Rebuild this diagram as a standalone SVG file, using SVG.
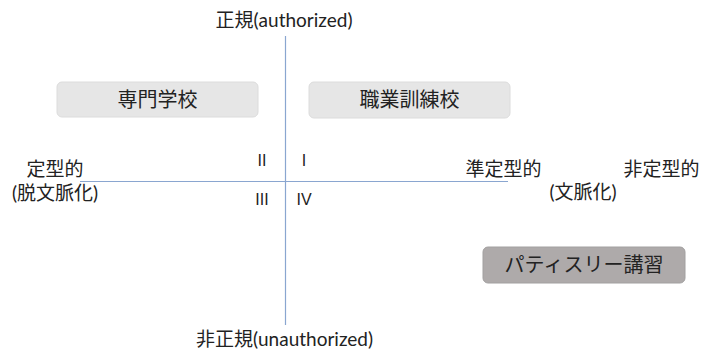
<svg xmlns="http://www.w3.org/2000/svg" width="712" height="351" viewBox="0 0 712 351">
<style>
text{font-family:"Noto Sans CJK JP","Liberation Sans",sans-serif;font-size:19px;fill:#222}
.lat{font-family:Lato,"Noto Sans CJK JP",sans-serif}
.lbl{font-size:20px}
.rom{font-family:"Liberation Sans",sans-serif;font-size:16px}
.axis{stroke:#8aa6d0;stroke-width:1.2;fill:none}
.box{fill:#e6e6e6;stroke:#dcdcdc;stroke-width:1}
.dark{fill:#aeaaaa;stroke:#a2a0a0}
</style>
<rect width="712" height="351" fill="#fff"/>
<g id="connectors">
<line class="axis" x1="285.5" y1="36" x2="285.5" y2="325"/>
<line class="axis" x1="80" y1="181.5" x2="508" y2="181.5"/>
</g>
<g id="axis-labels">
<text x="284" y="26.5" text-anchor="middle">正規<tspan class="lat">(authorized)</tspan></text>
<text x="284.5" y="346" text-anchor="middle">非正規<tspan class="lat">(unauthorized)</tspan></text>
<text x="55" y="175.5" text-anchor="middle">定型的</text>
<text x="55" y="199.5" text-anchor="middle"><tspan class="lat">(</tspan>脱文脈化<tspan class="lat">)</tspan></text>
<text x="503.5" y="175.5" text-anchor="middle">準定型的</text>
<text x="583" y="199" text-anchor="middle"><tspan class="lat">(</tspan>文脈化<tspan class="lat">)</tspan></text>
<text x="661.5" y="175.5" text-anchor="middle">非定型的</text>
</g>
<g id="quadrants">
<text class="rom" x="262" y="166" text-anchor="middle">II</text>
<text class="rom" x="304" y="166" text-anchor="middle">I</text>
<text class="rom" x="262" y="205" text-anchor="middle">III</text>
<text class="rom" x="304" y="205" text-anchor="middle">IV</text>
</g>
<g id="node-senmon">
<rect class="box" x="57" y="82" width="201" height="35" rx="5"/>
<text class="lbl" x="157.5" y="106.5" text-anchor="middle">専門学校</text>
</g>
<g id="node-shokugyo">
<rect class="box" x="309" y="82" width="201" height="36" rx="5"/>
<text class="lbl" x="409.5" y="107" text-anchor="middle">職業訓練校</text>
</g>
<g id="node-patisserie">
<rect class="box dark" x="483" y="247" width="202" height="36" rx="5"/>
<text class="lbl" x="584" y="272" text-anchor="middle">パティスリー講習</text>
</g>
</svg>
